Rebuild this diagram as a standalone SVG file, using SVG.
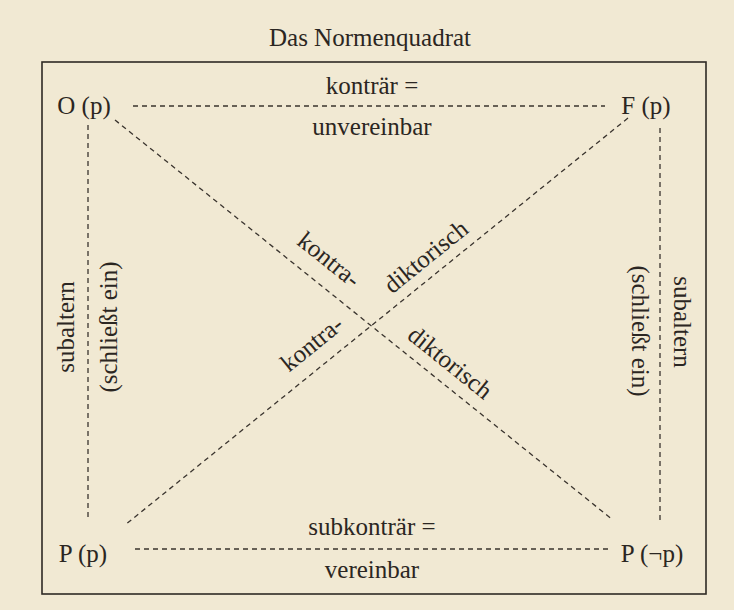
<svg xmlns="http://www.w3.org/2000/svg" width="734" height="610" viewBox="0 0 734 610">
<style>
text{font-family:"Liberation Serif","DejaVu Serif",serif;font-size:25px;fill:#2b2622;text-anchor:middle}
.d{stroke:#3a342e;stroke-width:1.3;stroke-dasharray:5 4;fill:none}
</style>
<rect x="0" y="0" width="734" height="610" fill="#f1e9d3"/>
<text x="370" y="46" font-size="26">Das Normenquadrat</text>
<rect x="42" y="62" width="664" height="532" fill="none" stroke="#2f2a25" stroke-width="1.6"/>
<g id="connectors">
<line class="d" x1="133" y1="106" x2="605" y2="106"/>
<line class="d" x1="135" y1="549" x2="608" y2="549"/>
<line class="d" x1="88" y1="125" x2="88" y2="520"/>
<line class="d" x1="660" y1="128" x2="660" y2="522"/>
<line class="d" x1="115" y1="120" x2="613" y2="520"/>
<line class="d" x1="628" y1="118" x2="125" y2="525"/>
</g>
<g id="node-O"><text x="84" y="114">O (p)</text></g>
<g id="node-F"><text x="646" y="114">F (p)</text></g>
<g id="node-Pp"><text x="83" y="562">P (p)</text></g>
<g id="node-Pnp"><text x="652" y="562">P (¬p)</text></g>
<g id="labels">
<text x="372" y="94">konträr =</text>
<text x="372" y="135">unvereinbar</text>
<text x="372" y="535">subkonträr =</text>
<text x="372" y="578">vereinbar</text>
<text transform="translate(74,327) rotate(-90)">subaltern</text>
<text transform="translate(117,327) rotate(-90)">(schließt ein)</text>
<text transform="translate(674,322) rotate(90)">subaltern</text>
<text transform="translate(632,331) rotate(90)">(schließt ein)</text>
<text transform="translate(324,266) rotate(38.8)">kontra-</text>
<text transform="translate(431,263) rotate(-39)">diktorisch</text>
<text transform="translate(317,350) rotate(-39)">kontra-</text>
<text transform="translate(445,369) rotate(38.8)">diktorisch</text>
</g>
</svg>
